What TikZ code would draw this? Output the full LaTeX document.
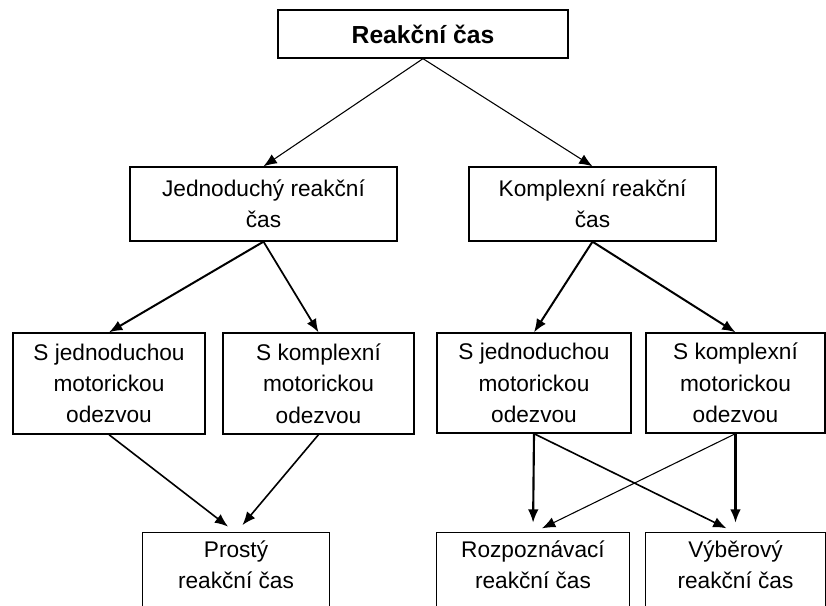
\documentclass[tikz,border=0pt]{standalone}
\usepackage{fontspec}
\setmainfont{Liberation Sans}
\usetikzlibrary{arrows.meta}

\tikzset{
  box/.style={draw, line width=1pt, align=center, inner sep=0pt,
              font=\fontsize{17}{23.5}\selectfont},
  leaf/.style={align=center, inner sep=0pt, minimum height=48pt,
               font=\fontsize{17}{23.5}\selectfont},
  arr/.style={-{Latex[length=10pt,width=8pt]}},
}

\begin{document}
\begin{tikzpicture}[x=0.75pt, y=-0.75pt]
    \useasboundingbox (0,0) rectangle (826,606);
    \node[box, minimum width=217.5pt, minimum height=36pt,
          font=\fontsize{18.5}{23.5}\selectfont\bfseries] (reakce) at (423,34) {Reakční čas};
    \node[box, minimum width=200.25pt, minimum height=55.5pt] (jedno) at (263.5,204) {Jednoduchý reakční\\čas};
    \node[box, minimum width=185.25pt, minimum height=55.5pt] (kompl) at (592.5,204) {Komplexní reakční\\čas};
    \node[box, minimum width=144pt, minimum height=75.75pt] (jjedno) at (109,383.5) {S jednoduchou\\motorickou\\odezvou};
    \node[box, minimum width=143.25pt, minimum height=75.75pt] (jkompl) at (318.5,383.5) {S komplexní\\motorickou\\odezvou};
    \node[box, minimum width=145.5pt, minimum height=75pt] (kjedno) at (534,383) {S jednoduchou\\motorickou\\odezvou};
    \node[box, minimum width=134.25pt, minimum height=75pt] (kkompl) at (735.5,383) {S komplexní\\motorickou\\odezvou};
    % spodni rada, ramecky pokracuji pod okraj
    \node[leaf, minimum width=139.5pt] (prosty) at (236,565) {Prostý\\reakční čas};
    \node[leaf, minimum width=144pt] (rozpoz) at (533,565) {Rozpoznávací\\reakční čas};
    \node[leaf, minimum width=134.25pt] (vyber) at (735.5,565) {Výběrový\\reakční čas};
    \draw[line width=1pt] (prosty.north west) rectangle ([yshift=-20pt]prosty.south east);
    \draw[line width=1pt] (rozpoz.north west) rectangle ([yshift=-20pt]rozpoz.south east);
    \draw[line width=1pt] (vyber.north west) rectangle ([yshift=-20pt]vyber.south east);
    % sipky
    \draw[arr, line width=0.8pt] (reakce.south) -- (jedno.north);
    \draw[arr, line width=0.8pt] (reakce.south) -- (kompl.north);
    \draw[arr, line width=1.5pt] (jedno.south) -- (jjedno.north);
    \draw[arr, line width=1.3pt] (jedno.south) -- (jkompl.north);
    \draw[arr, line width=1.5pt] (kompl.south) -- (kjedno.north);
    \draw[arr, line width=1.5pt] (kompl.south) -- (kkompl.north);
    \draw[arr, line width=1.2pt, shorten >=7.5pt] (jjedno.south) -- (prosty.north);
    \draw[arr, line width=1.2pt, shorten >=7.5pt] (jkompl.south) -- (prosty.north);
    \draw[arr, line width=1.6pt, shorten >=7.5pt] (kjedno.south) -- (rozpoz.north);
    \draw[arr, line width=1.2pt, shorten >=7.5pt] (kjedno.south) -- (vyber.north);
    \draw[arr, line width=1.6pt, shorten >=7.5pt] (kkompl.south) -- (vyber.north);
    \draw[arr, line width=0.8pt, shorten >=7.5pt] (kkompl.south) -- (rozpoz.north);
\end{tikzpicture}
\end{document}
